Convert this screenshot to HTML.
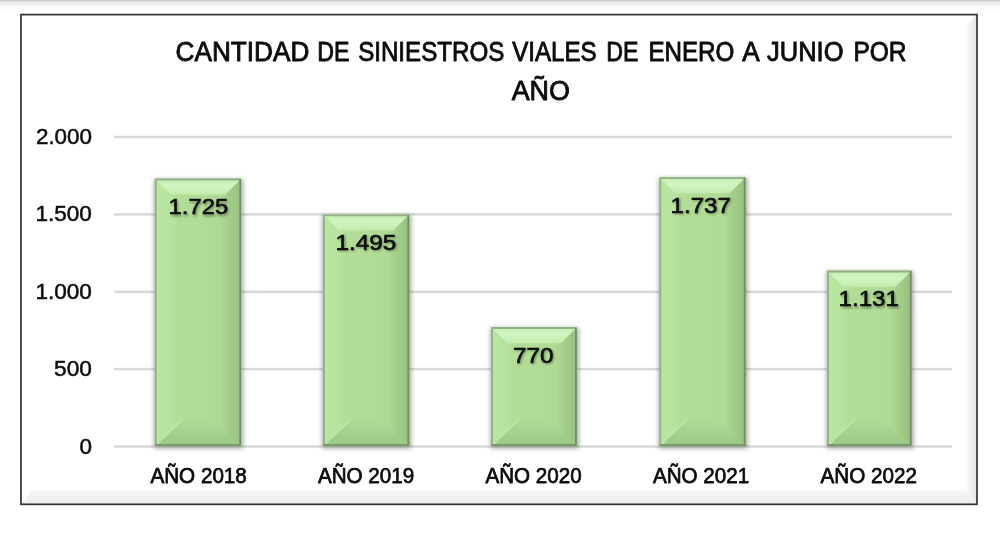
<!DOCTYPE html>
<html lang="es"><head><meta charset="utf-8"><title>Cantidad de siniestros viales de enero a junio por año</title>
<style>
html,body{margin:0;padding:0;background:#fff;}
body{width:1000px;height:543px;overflow:hidden;position:relative;font-family:"Liberation Sans",sans-serif;}
svg{position:absolute;left:0;top:0;display:block}
text{font-family:"Liberation Sans",sans-serif;fill:#0c0c0c;stroke:#0c0c0c;stroke-linejoin:round}
</style></head><body>
<svg width="1000" height="543" viewBox="0 0 1000 543">
<defs>
<linearGradient id="topsh" x1="0" y1="0" x2="0" y2="1">
<stop offset="0" stop-color="#c2c2c2"/><stop offset="0.1" stop-color="#dadada"/><stop offset="0.25" stop-color="#ebebeb"/><stop offset="0.6" stop-color="#f8f8f8"/><stop offset="1" stop-color="#ffffff"/>
</linearGradient>
<linearGradient id="bevB" x1="0" y1="0" x2="0" y2="1"><stop offset="0" stop-color="#fafafa"/><stop offset="0.3" stop-color="#f3f3f3"/><stop offset="1" stop-color="#ededed"/></linearGradient>
<linearGradient id="bevR" x1="0" y1="0" x2="1" y2="0"><stop offset="0" stop-color="#fbfbfb"/><stop offset="1" stop-color="#e6e6e6"/></linearGradient>
<linearGradient id="bevT" x1="0" y1="0" x2="0" y2="1"><stop offset="0" stop-color="#c3ecb0"/><stop offset="0.45" stop-color="#d3f5c2"/><stop offset="1" stop-color="#c2ebae"/></linearGradient>
<linearGradient id="bevBt" x1="0" y1="0" x2="0" y2="1"><stop offset="0" stop-color="#aedb95"/><stop offset="0.5" stop-color="#a6d28e"/><stop offset="1" stop-color="#9bc784"/></linearGradient>
<linearGradient id="face" x1="0" y1="0" x2="1" y2="0">
<stop offset="0" stop-color="#b9e7a2"/><stop offset="0.2" stop-color="#b6e39d"/><stop offset="0.25" stop-color="#b2de97"/><stop offset="0.75" stop-color="#b0db94"/><stop offset="0.84" stop-color="#a5cf8b"/><stop offset="1" stop-color="#98c180"/>
</linearGradient>
<filter id="sh" x="-20%" y="-10%" width="140%" height="120%"><feGaussianBlur stdDeviation="2"/></filter>
<filter id="tsh" x="-20%" y="-20%" width="140%" height="160%"><feGaussianBlur stdDeviation="1.2"/></filter>
</defs>
<rect x="0" y="0" width="1000" height="543" fill="#fff"/>
<rect x="0" y="0" width="1000" height="11" fill="url(#topsh)"/>
<polygon points="22,489 976,489 976,503.5 22,503.5 33,489" fill="url(#bevB)"/>
<polygon points="976,15.5 976,503.5 966.5,489 966.5,26" fill="url(#bevR)"/>
<rect x="21" y="14.6" width="956" height="489.7" fill="none" stroke="#323232" stroke-width="1.7"/>
<rect x="114" y="135.75" width="838" height="2.5" fill="#d9d9d9"/>
<rect x="114" y="213.15" width="838" height="2.5" fill="#d9d9d9"/>
<rect x="114" y="290.55" width="838" height="2.5" fill="#d9d9d9"/>
<rect x="114" y="367.85" width="838" height="2.5" fill="#d9d9d9"/>
<rect x="114" y="445.25" width="838" height="2.5" fill="#d9d9d9"/>
<g>
<rect x="153.9" y="179.2" width="89.4" height="269.3" fill="#56664c" opacity="0.5" filter="url(#sh)"/>
<rect x="154.9" y="178.7" width="86.2" height="267.3" fill="url(#face)"/>
<polygon points="154.9,178.7 241.1,178.7 225.1,194.7 170.9,194.7" fill="url(#bevT)"/>
<path d="M154.9,446.0 L182.9,419.0 Q200.0,419.5 217.1,424.0 L241.1,446.0 Z" fill="url(#bevBt)"/>
<path d="M156.4,445.0 L182.9,419.0" stroke="#bfeaa9" stroke-width="1.6" opacity="0.8" fill="none"/>
<path d="M155.8,446.0 V179.5 H240.2" fill="none" stroke="#8ea982" stroke-width="1.8" opacity="0.9"/>
<path d="M240.2,178.9 V445.2 H155.4" fill="none" stroke="#6f8a64" stroke-width="1.8" opacity="0.9"/>
</g>
<g>
<rect x="322.0" y="215.0" width="89.4" height="233.5" fill="#56664c" opacity="0.5" filter="url(#sh)"/>
<rect x="323.0" y="214.5" width="86.2" height="231.5" fill="url(#face)"/>
<polygon points="323.0,214.5 409.2,214.5 393.2,230.5 339.0,230.5" fill="url(#bevT)"/>
<path d="M323.0,446.0 L351.0,419.0 Q368.1,419.5 385.2,424.0 L409.2,446.0 Z" fill="url(#bevBt)"/>
<path d="M324.5,445.0 L351.0,419.0" stroke="#bfeaa9" stroke-width="1.6" opacity="0.8" fill="none"/>
<path d="M323.9,446.0 V215.3 H408.3" fill="none" stroke="#8ea982" stroke-width="1.8" opacity="0.9"/>
<path d="M408.3,214.7 V445.2 H323.5" fill="none" stroke="#6f8a64" stroke-width="1.8" opacity="0.9"/>
</g>
<g>
<rect x="490.2" y="327.7" width="88.8" height="120.8" fill="#56664c" opacity="0.5" filter="url(#sh)"/>
<rect x="491.2" y="327.2" width="85.6" height="118.8" fill="url(#face)"/>
<polygon points="491.2,327.2 576.8,327.2 560.8,343.2 507.2,343.2" fill="url(#bevT)"/>
<path d="M491.2,446.0 L519.2,419.0 Q536.0,419.5 552.8,424.0 L576.8,446.0 Z" fill="url(#bevBt)"/>
<path d="M492.7,445.0 L519.2,419.0" stroke="#bfeaa9" stroke-width="1.6" opacity="0.8" fill="none"/>
<path d="M492.1,446.0 V328.0 H575.9" fill="none" stroke="#8ea982" stroke-width="1.8" opacity="0.9"/>
<path d="M575.9,327.4 V445.2 H491.7" fill="none" stroke="#6f8a64" stroke-width="1.8" opacity="0.9"/>
</g>
<g>
<rect x="658.4" y="177.8" width="89.4" height="270.7" fill="#56664c" opacity="0.5" filter="url(#sh)"/>
<rect x="659.4" y="177.3" width="86.2" height="268.7" fill="url(#face)"/>
<polygon points="659.4,177.3 745.6,177.3 729.6,193.3 675.4,193.3" fill="url(#bevT)"/>
<path d="M659.4,446.0 L687.4,419.0 Q704.5,419.5 721.6,424.0 L745.6,446.0 Z" fill="url(#bevBt)"/>
<path d="M660.9,445.0 L687.4,419.0" stroke="#bfeaa9" stroke-width="1.6" opacity="0.8" fill="none"/>
<path d="M660.3,446.0 V178.1 H744.7" fill="none" stroke="#8ea982" stroke-width="1.8" opacity="0.9"/>
<path d="M744.7,177.5 V445.2 H659.9" fill="none" stroke="#6f8a64" stroke-width="1.8" opacity="0.9"/>
</g>
<g>
<rect x="826.2" y="271.2" width="87.60000000000001" height="177.3" fill="#56664c" opacity="0.5" filter="url(#sh)"/>
<rect x="827.2" y="270.7" width="84.4" height="175.3" fill="url(#face)"/>
<polygon points="827.2,270.7 911.6,270.7 895.6,286.7 843.2,286.7" fill="url(#bevT)"/>
<path d="M827.2,446.0 L855.2,419.0 Q871.4,419.5 887.6,424.0 L911.6,446.0 Z" fill="url(#bevBt)"/>
<path d="M828.7,445.0 L855.2,419.0" stroke="#bfeaa9" stroke-width="1.6" opacity="0.8" fill="none"/>
<path d="M828.1,446.0 V271.5 H910.7" fill="none" stroke="#8ea982" stroke-width="1.8" opacity="0.9"/>
<path d="M910.7,270.9 V445.2 H827.7" fill="none" stroke="#6f8a64" stroke-width="1.8" opacity="0.9"/>
</g>
<text x="175.59" y="61.20" font-size="27" stroke-width="0.85" textLength="133.76" lengthAdjust="spacingAndGlyphs">CANTIDAD</text>
<text x="317.34" y="61.20" font-size="27" stroke-width="0.85" textLength="32.23" lengthAdjust="spacingAndGlyphs">DE</text>
<text x="358.18" y="61.20" font-size="27" stroke-width="0.85" textLength="146.05" lengthAdjust="spacingAndGlyphs">SINIESTROS</text>
<text x="512.13" y="61.20" font-size="27" stroke-width="0.85" textLength="84.54" lengthAdjust="spacingAndGlyphs">VIALES</text>
<text x="606.34" y="61.20" font-size="27" stroke-width="0.85" textLength="32.23" lengthAdjust="spacingAndGlyphs">DE</text>
<text x="648.41" y="61.20" font-size="27" stroke-width="0.85" textLength="85.95" lengthAdjust="spacingAndGlyphs">ENERO</text>
<text x="742.31" y="61.20" font-size="27" stroke-width="0.85" textLength="17.41" lengthAdjust="spacingAndGlyphs">A</text>
<text x="767.00" y="61.20" font-size="27" stroke-width="0.85" textLength="76.47" lengthAdjust="spacingAndGlyphs">JUNIO</text>
<text x="853.40" y="61.20" font-size="27" stroke-width="0.85" textLength="53.11" lengthAdjust="spacingAndGlyphs">POR</text>
<text x="511.70" y="99.80" font-size="27" stroke-width="0.85" textLength="58.28" lengthAdjust="spacingAndGlyphs">AÑO</text>
<text x="35.94" y="144.00" font-size="22" stroke-width="0.5" textLength="56.03" lengthAdjust="spacingAndGlyphs">2.000</text>
<text x="35.40" y="221.40" font-size="22" stroke-width="0.5" textLength="56.50" lengthAdjust="spacingAndGlyphs">1.500</text>
<text x="35.40" y="298.80" font-size="22" stroke-width="0.5" textLength="56.50" lengthAdjust="spacingAndGlyphs">1.000</text>
<text x="54.03" y="376.10" font-size="22" stroke-width="0.5" textLength="37.88" lengthAdjust="spacingAndGlyphs">500</text>
<text x="79.48" y="453.50" font-size="22" stroke-width="0.5" textLength="12.49" lengthAdjust="spacingAndGlyphs">0</text>
<text x="169.76" y="215.60" font-size="22.6" stroke-width="0.65" textLength="59.59" lengthAdjust="spacingAndGlyphs" opacity="0.38" filter="url(#tsh)">1.725</text>
<text x="168.56" y="214.40" font-size="22.6" stroke-width="0.65" textLength="59.59" lengthAdjust="spacingAndGlyphs">1.725</text>
<text x="336.70" y="251.40" font-size="22.6" stroke-width="0.65" textLength="60.71" lengthAdjust="spacingAndGlyphs" opacity="0.38" filter="url(#tsh)">1.495</text>
<text x="335.50" y="250.20" font-size="22.6" stroke-width="0.65" textLength="60.71" lengthAdjust="spacingAndGlyphs">1.495</text>
<text x="514.34" y="364.10" font-size="22.6" stroke-width="0.65" textLength="40.44" lengthAdjust="spacingAndGlyphs" opacity="0.38" filter="url(#tsh)">770</text>
<text x="513.14" y="362.90" font-size="22.6" stroke-width="0.65" textLength="40.44" lengthAdjust="spacingAndGlyphs">770</text>
<text x="671.70" y="214.20" font-size="22.6" stroke-width="0.65" textLength="60.46" lengthAdjust="spacingAndGlyphs" opacity="0.38" filter="url(#tsh)">1.737</text>
<text x="670.50" y="213.00" font-size="22.6" stroke-width="0.65" textLength="60.46" lengthAdjust="spacingAndGlyphs">1.737</text>
<text x="839.72" y="307.60" font-size="22.6" stroke-width="0.65" textLength="60.49" lengthAdjust="spacingAndGlyphs" opacity="0.38" filter="url(#tsh)">1.131</text>
<text x="838.52" y="306.40" font-size="22.6" stroke-width="0.65" textLength="60.49" lengthAdjust="spacingAndGlyphs">1.131</text>
<text x="150.44" y="483.20" font-size="21.8" stroke-width="0.75" textLength="96.39" lengthAdjust="spacingAndGlyphs">AÑO 2018</text>
<text x="317.96" y="483.20" font-size="21.8" stroke-width="0.75" textLength="96.24" lengthAdjust="spacingAndGlyphs">AÑO 2019</text>
<text x="485.44" y="483.20" font-size="21.8" stroke-width="0.75" textLength="96.21" lengthAdjust="spacingAndGlyphs">AÑO 2020</text>
<text x="652.97" y="483.20" font-size="21.8" stroke-width="0.75" textLength="96.22" lengthAdjust="spacingAndGlyphs">AÑO 2021</text>
<text x="820.44" y="483.20" font-size="21.8" stroke-width="0.75" textLength="96.56" lengthAdjust="spacingAndGlyphs">AÑO 2022</text>
</svg></body></html>
